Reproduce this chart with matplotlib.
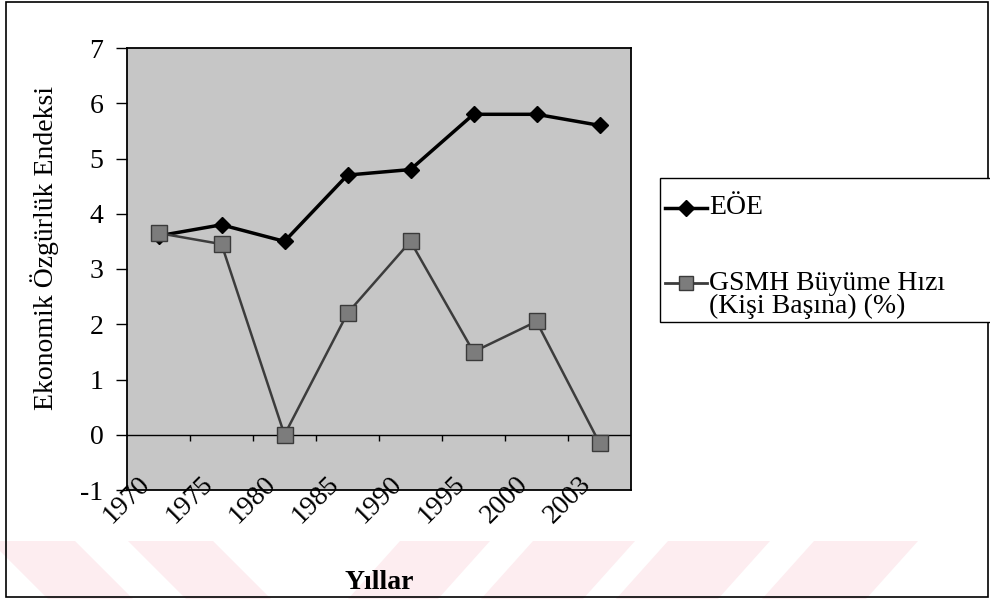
import matplotlib.pyplot as plt
from matplotlib.patches import Rectangle, Polygon
from matplotlib.lines import Line2D
from matplotlib.transforms import ScaledTranslation
import numpy as np

years = ['1970', '1975', '1980', '1985', '1990', '1995', '2000', '2003']
eoe = [3.6, 3.8, 3.5, 4.7, 4.8, 5.8, 5.8, 5.6]
gsmh = [3.65, 3.45, 0.0, 2.2, 3.5, 1.5, 2.05, -0.15]

W, H = 990, 599


def px(x, y):
    # pixel (from top-left) -> figure fraction
    return x / W, 1 - y / H


plt.rcParams['font.family'] = ['Liberation Serif', 'DejaVu Serif']
plt.rcParams['axes.unicode_minus'] = False
FS = 20

fig = plt.figure(figsize=(9.9, 5.99), dpi=100)

# pale pink watermark stripes at the bottom
pink = '#fdedf0'
y0, y1 = 541, 599
back = [(-10, 75), (128, 213)]
fwd = [(400, 490), (533, 635), (668, 770), (814, 918)]
for a, b in back:
    pts = [px(a, y0), px(b, y0), px(b + 58, y1), px(a + 58, y1)]
    fig.add_artist(Polygon(pts, closed=True, transform=fig.transFigure,
                           facecolor=pink, edgecolor='none', zorder=0))
for a, b in fwd:
    pts = [px(a, y0), px(b, y0), px(b - 52, y1), px(a - 52, y1)]
    fig.add_artist(Polygon(pts, closed=True, transform=fig.transFigure,
                           facecolor=pink, edgecolor='none', zorder=0))

# outer border
l, t = px(6, 2)
r, b = px(988, 597)
fig.add_artist(Rectangle((l, b), r - l, t - b, transform=fig.transFigure,
                         fill=False, edgecolor='black', lw=1.2, zorder=1))

al, at = px(127, 48)
ar, ab = px(631, 490)
ax = fig.add_axes([al, ab, ar - al, at - ab])
ax.set_facecolor('#c6c6c6')

x = np.arange(len(years))
ax.plot(x, eoe, color='black', lw=2.5, marker='D', ms=8.5, zorder=3)
ax.plot(x, gsmh, color='#3c3c3c', lw=1.8, marker='s', ms=11,
        markerfacecolor='#7c7c7c', markeredgecolor='#3a3a3a', zorder=4)

ax.set_xlim(-0.5, len(years) - 0.5)
ax.set_ylim(-1, 7)
ax.set_yticks(range(-1, 8))
ax.tick_params(axis='y', direction='out', length=8, width=1, pad=9, labelsize=FS)
ax.set_xticks([])

# zero line with tick marks between the categories
ax.axhline(0, color='black', lw=1, zorder=2)
ax.vlines(x[:-1] + 0.5, -0.11, 0, color='black', lw=1, zorder=2)

for s in ax.spines.values():
    s.set_color('black')
    s.set_linewidth(1.3)

# rotated category labels
off = ScaledTranslation(-0.12, 0.10, fig.dpi_scale_trans)
for i, yr in enumerate(years):
    ax.text(i, 0, yr, transform=ax.get_xaxis_transform() + off, rotation=45,
            ha='right', va='center', rotation_mode='anchor', fontsize=FS)

ax.set_ylabel('Ekonomik Özgürlük Endeksi', fontsize=FS)
ax.yaxis.set_label_coords(-0.135, 0.548)
ax.set_xlabel('Yıllar', fontsize=FS, fontweight='bold', va='center')
ax.xaxis.set_label_coords(0.5, -0.21)

# legend drawn by hand to keep the handle on the first text line
ll, lt = px(660, 178)
lr, lb = px(995, 322)
fig.add_artist(Rectangle((ll, lb), lr - ll, lt - lb, transform=fig.transFigure,
                         facecolor='white', edgecolor='black', lw=1, zorder=5))
hx0, hx1 = 665, 707
ya, yb = 208, 283
fig.add_artist(Line2D([px(hx0, ya)[0], px(hx1, ya)[0]], [px(hx0, ya)[1]] * 2,
                      transform=fig.transFigure, color='black', lw=2.5, zorder=6))
fig.add_artist(Line2D([px((hx0 + hx1) / 2, ya)[0]], [px(0, ya)[1]],
                      transform=fig.transFigure, marker='D', ms=8, color='black',
                      zorder=7))
fig.add_artist(Line2D([px(hx0, yb)[0], px(hx1, yb)[0]], [px(hx0, yb)[1]] * 2,
                      transform=fig.transFigure, color='#3c3c3c', lw=2, zorder=6))
fig.add_artist(Line2D([px((hx0 + hx1) / 2, yb)[0]], [px(0, yb)[1]],
                      transform=fig.transFigure, marker='s', ms=10,
                      markerfacecolor='#7c7c7c', markeredgecolor='#3a3a3a',
                      zorder=7))
fig.text(*px(709, ya), 'EÖE', fontsize=FS, va='center', ha='left', zorder=8)
fig.text(*px(709, yb), 'GSMH Büyüme Hızı', fontsize=FS, va='center', ha='left', zorder=8)
fig.text(*px(709, 306), '(Kişi Başına) (%)', fontsize=FS, va='center', ha='left', zorder=8)

fig.savefig('out.png', dpi=100)
